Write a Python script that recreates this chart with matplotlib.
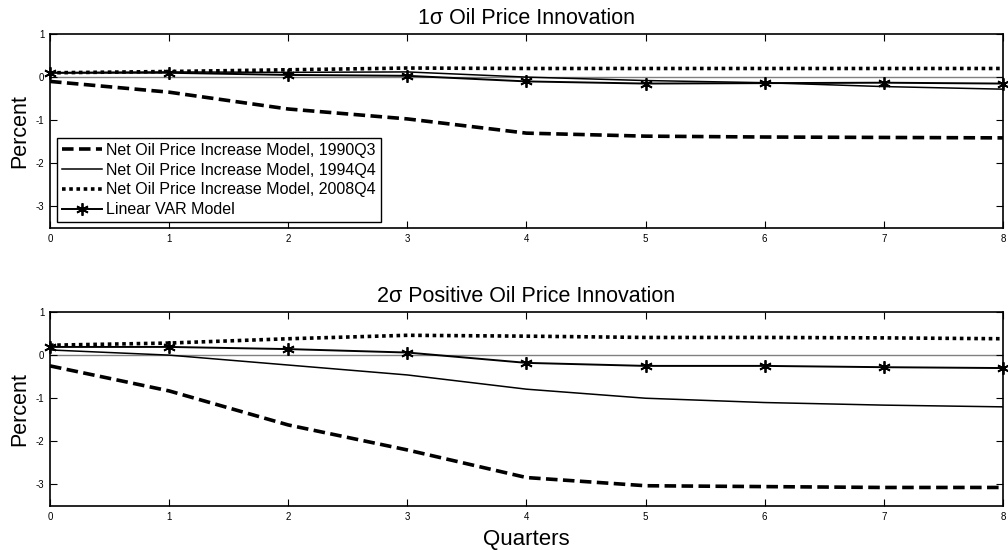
import matplotlib.pyplot as plt

plt.rcParams['font.family'] = ['Liberation Sans', 'DejaVu Sans']
plt.rcParams['axes.unicode_minus'] = False

quarters = [0, 1, 2, 3, 4, 5, 6, 7, 8]

# 1 sigma shock
top_1990 = [-0.10, -0.35, -0.74, -0.97, -1.30, -1.37, -1.39, -1.40, -1.41]
top_1994 = [0.10, 0.12, 0.11, 0.12, 0.00, -0.08, -0.13, -0.22, -0.28]
top_2008 = [0.10, 0.13, 0.17, 0.21, 0.20, 0.20, 0.20, 0.20, 0.20]
top_var = [0.10, 0.10, 0.05, 0.03, -0.10, -0.15, -0.14, -0.13, -0.15]

# 2 sigma positive shock
bot_1990 = [-0.25, -0.83, -1.62, -2.20, -2.84, -3.03, -3.05, -3.07, -3.07]
bot_1994 = [0.12, 0.00, -0.23, -0.46, -0.79, -1.00, -1.10, -1.16, -1.20]
bot_2008 = [0.23, 0.28, 0.38, 0.46, 0.44, 0.41, 0.41, 0.40, 0.38]
bot_var = [0.19, 0.19, 0.14, 0.06, -0.18, -0.25, -0.25, -0.28, -0.30]

labels = ["Net Oil Price Increase Model, 1990Q3",
          "Net Oil Price Increase Model, 1994Q4",
          "Net Oil Price Increase Model, 2008Q4",
          "Linear VAR Model"]
titles = ["1\u03c3 Oil Price Innovation", "2\u03c3 Positive Oil Price Innovation"]

fig = plt.figure(figsize=(10.08, 5.5), dpi=100)
ax1 = fig.add_axes([0.0496, 0.5855, 0.9454, 0.3527])
ax2 = fig.add_axes([0.0496, 0.08, 0.9454, 0.3527])

asterisk = (6, 2, 0)

for ax, series, title in [(ax1, (top_1990, top_1994, top_2008, top_var), titles[0]),
                          (ax2, (bot_1990, bot_1994, bot_2008, bot_var), titles[1])]:
    ax.axhline(0, color="#808080", lw=1, zorder=1)
    ax.plot(quarters, series[0], color="black", lw=2.6, dashes=(3.2, 1.5), label=labels[0])
    ax.plot(quarters, series[1], color="black", lw=1.1, label=labels[1])
    ax.plot(quarters, series[2], color="black", lw=2.6, dashes=(1, 1), label=labels[2])
    ax.plot(quarters, series[3], color="black", lw=1.4, marker=asterisk,
            markersize=9, markeredgewidth=1.3, label=labels[3], clip_on=False, zorder=5)
    ax.set_xlim(0, 8)
    ax.set_ylim(-3.5, 1)
    ax.set_xticks(quarters)
    ax.set_yticks([-3, -2, -1, 0, 1])
    ax.tick_params(direction="in", length=5, width=0.8, labelsize=7,
                   top=True, right=True, pad=4)
    for s in ax.spines.values():
        s.set_linewidth(1.2)
    ax.set_title(title, fontsize=15.5, pad=7)
    ax.set_ylabel("Percent", fontsize=15.5, labelpad=4)

ax2.set_xlabel("Quarters", fontsize=16, labelpad=5)

leg = ax1.legend(loc="lower left", bbox_to_anchor=(0.0073, 0.031), borderaxespad=0,
                 fontsize=11.5, fancybox=False, framealpha=1, edgecolor="black",
                 handlelength=2.5, handletextpad=0.3, labelspacing=0.3,
                 borderpad=0.3)
leg.get_frame().set_linewidth(1.0)

fig.savefig("out.png", dpi=100)
